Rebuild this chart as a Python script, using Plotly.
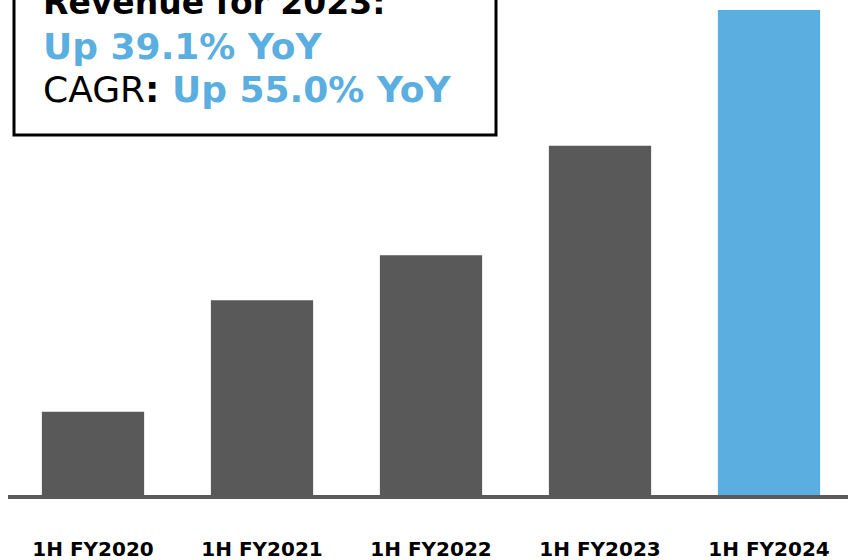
import plotly.graph_objects as go

# Half-year revenue (relative units)
periods = ["1H FY2020", "1H FY2021", "1H FY2022", "1H FY2023", "1H FY2024"]
revenue = [8.33, 19.47, 23.97, 34.93, 48.5]
bar_colors = ["#595959", "#595959", "#595959", "#595959", "#5AAFE0"]

headline = "Revenue for 2023:"
yoy_text = "Up 39.1% YoY"
cagr_label = "CAGR"
cagr_text = "Up 55.0% YoY"

W, H = 848, 560
ML, MR, MT, MB = 8, 0, 0, 65
PW, PH = W - ML - MR, H - MT - MB
BLUE = "#5AAFE0"
FONT = "DejaVu Sans"


def px_x(x):
    return (x - ML) / PW


def px_y(y):
    return (H - MB - y) / PH


fig = go.Figure(
    go.Bar(
        x=list(range(len(periods))),
        y=revenue,
        marker=dict(color=bar_colors, line=dict(width=0)),
        width=0.605,
        hoverinfo="skip",
    )
)

fig.update_layout(
    width=W,
    height=H,
    margin=dict(l=ML, r=MR, t=MT, b=MB, pad=0),
    paper_bgcolor="white",
    plot_bgcolor="white",
    showlegend=False,
    xaxis=dict(
        range=[-0.503, -0.503 + PW / 169],
        tickmode="array",
        tickvals=list(range(len(periods))),
        ticktext=periods,
        tickfont=dict(family=FONT, size=20, color="#000000", weight="bold"),
        ticks="",
        ticklabelstandoff=33,
        automargin=False,
        showgrid=False,
        zeroline=False,
        showline=True,
        linecolor="#595959",
        linewidth=4,
        fixedrange=True,
    ),
    yaxis=dict(
        range=[0, 49.5],
        visible=False,
        automargin=False,
        showgrid=False,
        zeroline=False,
        fixedrange=True,
    ),
)

# Callout box with the growth figures
fig.add_shape(
    type="rect",
    xref="paper", yref="paper",
    x0=px_x(14), x1=px_x(496),
    y0=px_y(135), y1=px_y(-30),
    line=dict(color="#000000", width=3),
    fillcolor="rgba(0,0,0,0)",
    layer="above",
)

fig.add_annotation(
    xref="paper", yref="paper", x=px_x(41), y=px_y(2),
    xanchor="left", yanchor="middle", showarrow=False,
    text=f"<b>{headline}</b>",
    font=dict(family=FONT, size=33, color="#000000"),
)
fig.add_annotation(
    xref="paper", yref="paper", x=px_x(41), y=px_y(47),
    xanchor="left", yanchor="middle", showarrow=False,
    text=f"<b>{yoy_text}</b>",
    font=dict(family=FONT, size=36, color=BLUE),
)
fig.add_annotation(
    xref="paper", yref="paper", x=px_x(41), y=px_y(90),
    xanchor="left", yanchor="middle", showarrow=False,
    text=f"{cagr_label}<b>: </b><b><span style='color:{BLUE}'>{cagr_text}</span></b>",
    font=dict(family=FONT, size=36, color="#000000"),
)

fig.write_html("out.html")
